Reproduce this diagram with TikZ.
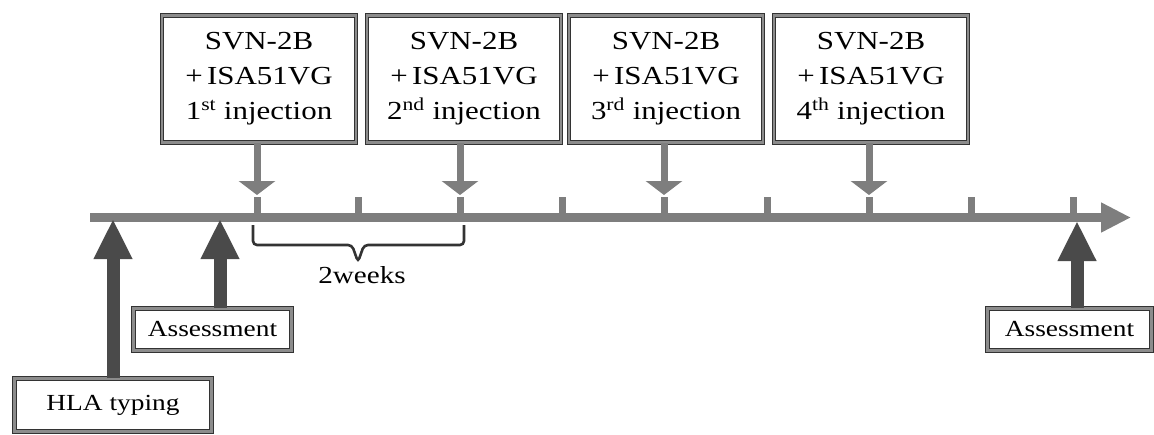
\documentclass[tikz,border=0pt]{standalone}
\usepackage{fontspec}
\setmainfont{Liberation Serif}[FakeStretch=1.19]
\usetikzlibrary{arrows.meta}
\definecolor{linegray}{HTML}{7E7E7E}
\definecolor{darkarrow}{HTML}{4A4A4A}
\definecolor{boxgray}{HTML}{8C8C8C}
\tikzset{
  framed/.style={draw=black!80, double=boxgray, double distance=2.4pt, line width=1pt, fill=white},
  injbox/.style={framed, minimum width=194pt, minimum height=127pt, inner sep=0pt, align=center,
    font=\fontsize{26}{35}\selectfont},
  lowbox/.style={framed, inner sep=0pt, align=center, font=\fontsize{23}{27}\selectfont},
  downarrow/.style={draw=linegray, line width=7pt, -{Triangle[width=36pt,length=14pt]}},
  uparrow/.style={draw=darkarrow, line width=13pt, -{Triangle[width=36pt,length=40pt]}},
  tickmark/.style={draw=linegray, line width=7pt},
  axis/.style={draw=linegray, line width=9pt, -{Triangle[width=28pt,length=30pt]}},
  bracket/.style={draw=black!80, line width=2.6pt, rounded corners=4pt},
  lbl/.style={font=\fontsize{24.5}{28}\selectfont, inner sep=0pt}
}
\begin{document}
\begin{tikzpicture}[x=1pt,y=-1pt]
\useasboundingbox (0,0) rectangle (1154,434);
% timeline
\coordinate (ax0) at (90,217.5);
\coordinate (ax1) at (1131,217.5);
\draw[axis] (ax0) -- (ax1);
% ticks
\foreach \i/\x in {1/257,2/358,3/460,4/562,5/664,6/767,7/869,8/971,9/1073}{
  \coordinate (t\i) at (\x,217.5);
  \coordinate (tt\i) at (\x,197);
  \draw[tickmark] (t\i) -- (tt\i);
}
% injection boxes
\node[injbox] (b1) at (259,79) {SVN-2B\\+\,ISA51VG\\1\textsuperscript{st} injection};
\node[injbox] (b2) at (464,79) {SVN-2B\\+\,ISA51VG\\2\textsuperscript{nd} injection};
\node[injbox] (b3) at (666,79) {SVN-2B\\+\,ISA51VG\\3\textsuperscript{rd} injection};
\node[injbox] (b4) at (871,79) {SVN-2B\\+\,ISA51VG\\4\textsuperscript{th} injection};
\coordinate (d1) at (257,195);
\coordinate (d3) at (460,195);
\coordinate (d5) at (664,195);
\coordinate (d7) at (869,195);
\draw[downarrow] (d1 |- b1.south) -- (d1);
\draw[downarrow] (d3 |- b2.south) -- (d3);
\draw[downarrow] (d5 |- b3.south) -- (d5);
\draw[downarrow] (d7 |- b4.south) -- (d7);
% lower boxes
\node[lowbox, minimum width=158pt, minimum height=42pt] (a1) at (212.5,329.5) {Assessment};
\node[lowbox, minimum width=197pt, minimum height=53pt] (h) at (113,405) {HLA typing};
\node[lowbox, minimum width=164pt, minimum height=42pt] (a2) at (1069.5,329.5) {Assessment};
\coordinate (u1) at (113,219);
\coordinate (u2) at (220,219);
\coordinate (u3) at (1077,221);
\draw[uparrow] (u1 |- h.north) -- (u1);
\draw[uparrow] (u2 |- a1.north) -- (u2);
\draw[uparrow] (u3 |- a2.north) -- (u3);
% bracket
\coordinate (bl) at (253,225);
\coordinate (br) at (464,225);
\draw[bracket] (bl) -- (253,245) -- (352,245) -- (358,262) -- (364,245) -- (464,245) -- (br);
\node[lbl, anchor=base] (wk) at (362,283) {2weeks};
\end{tikzpicture}
\end{document}
